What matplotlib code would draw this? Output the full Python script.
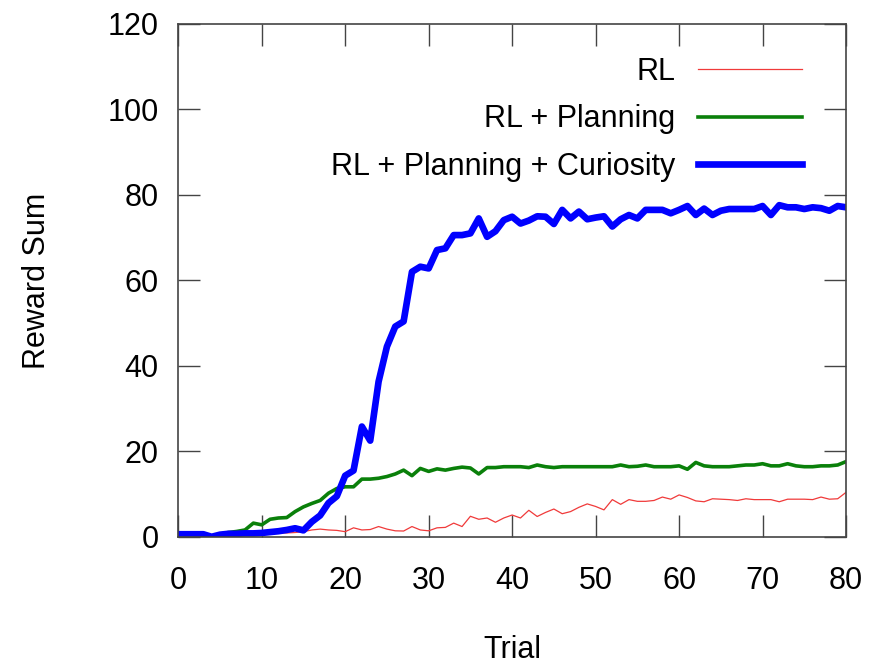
import numpy as np
import matplotlib.pyplot as plt

plt.rcParams['font.family'] = ['Liberation Sans', 'DejaVu Sans']

trial = np.arange(0, 81)

rl = [0.6, 0.6, 0.6, 0.6, 0.0, 0.5, 0.6, 0.6, 0.7, 0.7,
      0.8, 0.8, 0.9, 0.9, 1.0, 1.2, 1.6, 1.8, 1.6, 1.5,
      1.2, 2.1, 1.6, 1.7, 2.4, 1.8, 1.4, 1.35, 2.4, 1.6,
      1.4, 2.1, 2.2, 3.2, 2.4, 4.8, 4.1, 4.4, 3.4, 4.4,
      5.1, 4.4, 6.2, 4.75, 5.7, 6.5, 5.4, 5.9, 6.9, 7.7,
      7.1, 6.3, 8.7, 7.6, 8.7, 8.3, 8.3, 8.5, 9.3, 8.8,
      9.8, 9.2, 8.4, 8.2, 8.9, 8.8, 8.7, 8.5, 8.9, 8.7,
      8.7, 8.7, 8.2, 8.8, 8.8, 8.8, 8.7, 9.3, 8.8, 8.9,
      10.4]

rl_plan = [0.6, 0.6, 0.6, 0.6, 0.0, 0.6, 1.0, 1.25, 1.6, 3.2,
           2.8, 4.1, 4.4, 4.5, 5.9, 7.0, 7.8, 8.5, 10.2, 11.3,
           11.7, 11.7, 13.5, 13.5, 13.7, 14.1, 14.7, 15.6, 14.3, 16.0,
           15.3, 15.9, 15.6, 16.0, 16.3, 16.1, 14.7, 16.2, 16.2, 16.4,
           16.4, 16.4, 16.2, 16.8, 16.4, 16.2, 16.4, 16.4, 16.4, 16.4,
           16.4, 16.4, 16.4, 16.8, 16.4, 16.5, 16.8, 16.4, 16.4, 16.4,
           16.6, 15.8, 17.4, 16.6, 16.4, 16.4, 16.4, 16.6, 16.8, 16.8,
           17.1, 16.6, 16.6, 17.1, 16.6, 16.4, 16.4, 16.6, 16.6, 16.8,
           17.6]

rl_plan_cur = [0.6, 0.6, 0.6, 0.6, 0.0, 0.5, 0.7, 0.7, 0.8, 0.8,
               0.9, 1.1, 1.3, 1.6, 2.0, 1.5, 3.5, 5.0, 7.9, 9.5,
               14.3, 15.5, 25.8, 22.5, 36.3, 44.5, 49.2, 50.4, 62.0, 63.2,
               62.8, 67.1, 67.5, 70.6, 70.6, 71.0, 74.5, 70.2, 71.5, 74.1,
               74.9, 73.3, 74.0, 75.0, 74.9, 73.2, 76.5, 74.5, 76.1, 74.3,
               74.7, 75.0, 72.6, 74.3, 75.3, 74.5, 76.5, 76.5, 76.5, 75.7,
               76.5, 77.4, 75.3, 76.8, 75.3, 76.3, 76.7, 76.7, 76.7, 76.7,
               77.4, 75.3, 77.6, 77.1, 77.1, 76.7, 77.1, 76.9, 76.3, 77.4,
               77.1]

fig = plt.figure(figsize=(8.78, 6.66), dpi=100)
ax = fig.add_axes([0.203, 0.194, 0.7606, 0.77])

ax.plot(trial, rl, color='#f03a3a', lw=0.9, label='RL')
ax.plot(trial, rl_plan, color='#0a800a', lw=2.6, label='RL + Planning')
ax.plot(trial, rl_plan_cur, color='#0000ff', lw=4.8, label='RL + Planning + Curiosity')

ax.set_xlim(0, 80)
ax.set_ylim(0, 120)
ax.set_xticks(range(0, 81, 10))
ax.set_yticks(range(0, 121, 20))

for s in ax.spines.values():
    s.set_color('#444444')
    s.set_linewidth(1.2)
ax.tick_params(direction='in', length=16, width=1.0, color='#444444',
               top=True, right=True, labelsize=22)
ax.tick_params(axis='y', pad=14)
ax.tick_params(axis='x', pad=21)

ax.set_xlabel('Trial', fontsize=22, labelpad=28)
ax.set_ylabel('Reward Sum', fontsize=22, labelpad=40)

ax.legend(loc='upper right', bbox_to_anchor=(0.975, 0.99), frameon=False,
          markerfirst=False, fontsize=22, handlelength=3.4,
          labelspacing=0.58, handletextpad=0.75)

plt.savefig('out.png', dpi=100)
